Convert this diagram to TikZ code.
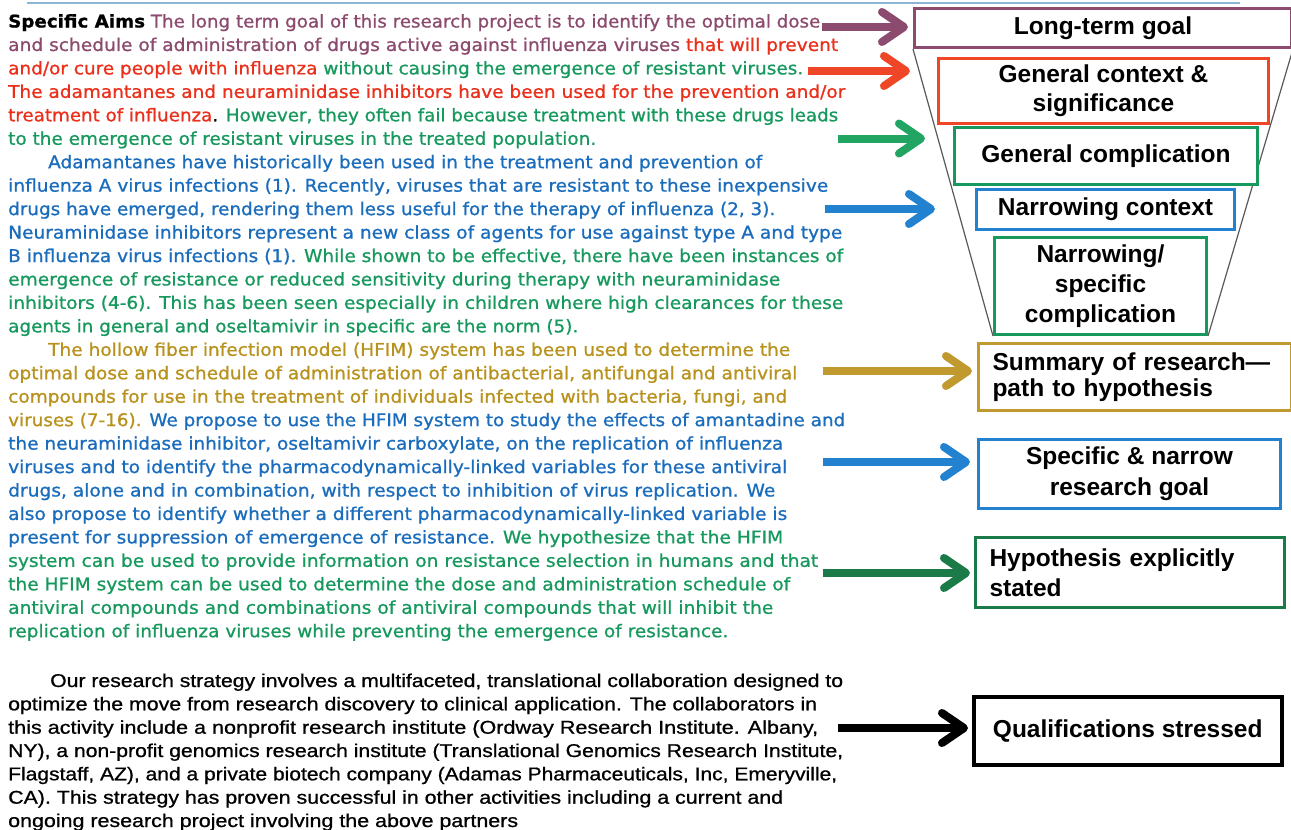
\documentclass[tikz,border=0pt]{standalone}
\usepackage{fontspec}
\setmainfont{DejaVu Sans}[FakeBold=0.9]
\newfontfamily\arialfont{Liberation Sans}
\newfontfamily\parafont{Liberation Sans}[FakeBold=0.8]
\usepackage{graphicx}
\usetikzlibrary{arrows.meta}
\definecolor{cpur}{HTML}{8C4B6E}
\definecolor{cred}{HTML}{EA2F1A}
\definecolor{credbox}{HTML}{EE4626}
\definecolor{cgrn}{HTML}{17995E}
\definecolor{cgrnarr}{HTML}{22A463}
\definecolor{cblu}{HTML}{1A6CBC}
\definecolor{cbluarr}{HTML}{2282CF}
\definecolor{cgold}{HTML}{B8921C}
\definecolor{cgoldarr}{HTML}{C09A2E}
\definecolor{cdkg}{HTML}{1A7A48}
\definecolor{ctop}{HTML}{8DB6D4}
\newcommand\tline[5]{\node[txt] (#1) at (#2,#3) {\resizebox{#4pt}{\height}{#5}};}
\newcommand\pline[5]{\node[ptxt] (#1) at (#2,#3) {\resizebox{#4pt}{\height}{#5}};}
\begin{document}
\begin{tikzpicture}[x=1pt,y=-1pt,
  txt/.style={anchor=base west, inner sep=0pt, font=\fontsize{17.5}{20}\selectfont},
  ptxt/.style={anchor=base west, inner sep=0pt, font=\parafont\fontsize{18.5}{22}\selectfont},
  box/.style={draw, line width=3pt, fill=white, inner sep=0pt, anchor=north west, align=center,
    font=\arialfont\bfseries\fontsize{24.5}{29}\selectfont},
  lbox/.style={box, align=left, inner xsep=14pt},
  arr/.style={line width=8pt, -{Straight Barb[length=22pt,width=30pt,round]}},
  funnel/.style={draw=gray!70!black, line width=1.2pt},
  topline/.style={draw=ctop, line width=1.5pt}]
\useasboundingbox[fill=white] (0,0) rectangle (1291,830);
% top rule
\coordinate (tl1) at (27,3);
\coordinate (tl2) at (1240,3);
\draw[topline] (tl1) -- (tl2);
% paragraph 1
\tline{t1}{8}{27.5}{812}{{\bfseries\color{black}Specific Aims} \color{cpur}The long term goal of this research project is to identify the optimal dose}
\tline{t2}{8}{50.95}{830}{\color{cpur}and schedule of administration of drugs active against influenza viruses \color{cred}that will prevent}
\tline{t3}{8}{74.4}{795}{\color{cred}and/or cure people with influenza \color{cgrn}without causing the emergence of resistant viruses.}
\tline{t4}{8}{97.85}{837}{\color{cred}The adamantanes and neuraminidase inhibitors have been used for the prevention and/or}
\tline{t5}{8}{121.3}{830}{\color{cred}treatment of influenza\color{black}. \color{cgrn}However, they often fail because treatment with these drugs leads}
\tline{t6}{8}{144.75}{588}{\color{cgrn}to the emergence of resistant viruses in the treated population.}
% paragraph 2
\tline{t7}{48}{168.2}{714}{\color{cblu}Adamantanes have historically been used in the treatment and prevention of}
\tline{t8}{8}{191.65}{820}{\color{cblu}influenza A virus infections (1). Recently, viruses that are resistant to these inexpensive}
\tline{t9}{8}{215.1}{767}{\color{cblu}drugs have emerged, rendering them less useful for the therapy of influenza (2, 3).}
\tline{t10}{8}{238.55}{834}{\color{cblu}Neuraminidase inhibitors represent a new class of agents for use against type A and type}
\tline{t11}{8}{262}{835}{\color{cblu}B influenza virus infections (1). \color{cgrn}While shown to be effective, there have been instances of}
\tline{t12}{8}{285.45}{772}{\color{cgrn}emergence of resistance or reduced sensitivity during therapy with neuraminidase}
\tline{t13}{8}{308.9}{835}{\color{cgrn}inhibitors (4-6). This has been seen especially in children where high clearances for these}
\tline{t14}{8}{332.35}{570}{\color{cgrn}agents in general and oseltamivir in specific are the norm (5).}
% paragraph 3
\tline{t15}{48}{355.8}{742}{\color{cgold}The hollow fiber infection model (HFIM) system has been used to determine the}
\tline{t16}{8}{379.25}{789}{\color{cgold}optimal dose and schedule of administration of antibacterial, antifungal and antiviral}
\tline{t17}{8}{402.7}{779}{\color{cgold}compounds for use in the treatment of individuals infected with bacteria, fungi, and}
\tline{t18}{8}{426.15}{837}{\color{cgold}viruses (7-16). \color{cblu}We propose to use the HFIM system to study the effects of amantadine and}
\tline{t19}{8}{449.6}{775}{\color{cblu}the neuraminidase inhibitor, oseltamivir carboxylate, on the replication of influenza}
\tline{t20}{8}{473.05}{779}{\color{cblu}viruses and to identify the pharmacodynamically-linked variables for these antiviral}
\tline{t21}{8}{496.5}{767}{\color{cblu}drugs, alone and in combination, with respect to inhibition of virus replication. We}
\tline{t22}{8}{519.95}{779}{\color{cblu}also propose to identify whether a different pharmacodynamically-linked variable is}
\tline{t23}{8}{543.4}{775}{\color{cblu}present for suppression of emergence of resistance. \color{cgrn}We hypothesize that the HFIM}
\tline{t24}{8}{566.85}{810}{\color{cgrn}system can be used to provide information on resistance selection in humans and that}
\tline{t25}{8}{590.3}{782}{\color{cgrn}the HFIM system can be used to determine the dose and administration schedule of}
\tline{t26}{8}{613.75}{765}{\color{cgrn}antiviral compounds and combinations of antiviral compounds that will inhibit the}
\tline{t27}{8}{637.2}{720}{\color{cgrn}replication of influenza viruses while preventing the emergence of resistance.}
% paragraph 4
\pline{p1}{50}{687}{793}{Our research strategy involves a multifaceted, translational collaboration designed to}
\pline{p2}{8}{710.3}{809}{optimize the move from research discovery to clinical application. The collaborators in}
\pline{p3}{8}{733.7}{810}{this activity include a nonprofit research institute (Ordway Research Institute. Albany,}
\pline{p4}{8}{757}{835}{NY), a non-profit genomics research institute (Translational Genomics Research Institute,}
\pline{p5}{8}{780.3}{829}{Flagstaff, AZ), and a private biotech company (Adamas Pharmaceuticals, Inc, Emeryville,}
\pline{p6}{8}{803.7}{775}{CA). This strategy has proven successful in other activities including a current and}
\pline{p7}{8}{827}{510}{ongoing research project involving the above partners}
% funnel boxes
\node[box, draw=cpur, minimum width=377pt, minimum height=39pt] (b1) at (913,7) {Long-term goal};
\node[box, draw=none, fill=none, minimum width=212pt, minimum height=97pt] (b5ghost) at (993,236) {};
\draw[funnel] (b1.south west) -- (b5ghost.south west);
\draw[funnel] (b1.south east) -- (b5ghost.south east);
\node[box, draw=credbox, minimum width=330pt, minimum height=65pt] (b2) at (937,57) {General context \&\\significance};
\node[box, draw=cgrn, minimum width=303pt, minimum height=57pt] (b3) at (953,126) {General complication};
\node[box, draw=cbluarr, minimum width=258pt, minimum height=40pt] (b4) at (975,188) {Narrowing context};
\node[box, draw=cgrn, minimum width=212pt, minimum height=97pt, font=\arialfont\bfseries\fontsize{24.5}{30}\selectfont] (b5) at (993,236) {Narrowing/\\specific\\complication};
% lower boxes
\node[lbox, draw=cgoldarr, text width=285pt, minimum height=67pt, font=\arialfont\bfseries\fontsize{24.5}{26}\selectfont] (b6) at (977,342) {Summary of research—\\path to hypothesis};
\node[box, draw=cbluarr, minimum width=302pt, minimum height=69pt, font=\arialfont\bfseries\fontsize{24.5}{31}\selectfont] (b7) at (977,438) {Specific \& narrow\\research goal};
\node[lbox, draw=cdkg, text width=281pt, minimum height=70pt, font=\arialfont\bfseries\fontsize{24.5}{30}\selectfont] (b8) at (974,536) {Hypothesis explicitly\\stated};
\node[box, draw=black, line width=3.5pt, minimum width=308pt, minimum height=68pt] (b9) at (972,695) {Qualifications stressed};
% arrows
\coordinate (a1s) at (822,27);   \coordinate (a1e) at (908,27);
\coordinate (a2s) at (808,71);   \coordinate (a2e) at (910,71);
\coordinate (a3s) at (838,138.5);\coordinate (a3e) at (925,138.5);
\coordinate (a4s) at (825,209);  \coordinate (a4e) at (935,209);
\coordinate (a5s) at (823,371);  \coordinate (a5e) at (972,371);
\coordinate (a6s) at (823,462);  \coordinate (a6e) at (970,462);
\coordinate (a7s) at (823,573);  \coordinate (a7e) at (970,573);
\coordinate (a8s) at (838,728);  \coordinate (a8e) at (968,728);
\draw[arr, cpur] (a1s) -- (a1e);
\draw[arr, credbox] (a2s) -- (a2e);
\draw[arr, cgrnarr] (a3s) -- (a3e);
\draw[arr, cbluarr] (a4s) -- (a4e);
\draw[arr, cgoldarr] (a5s) -- (a5e);
\draw[arr, cbluarr] (a6s) -- (a6e);
\draw[arr, cdkg] (a7s) -- (a7e);
\draw[arr, black] (a8s) -- (a8e);
\end{tikzpicture}
\end{document}
